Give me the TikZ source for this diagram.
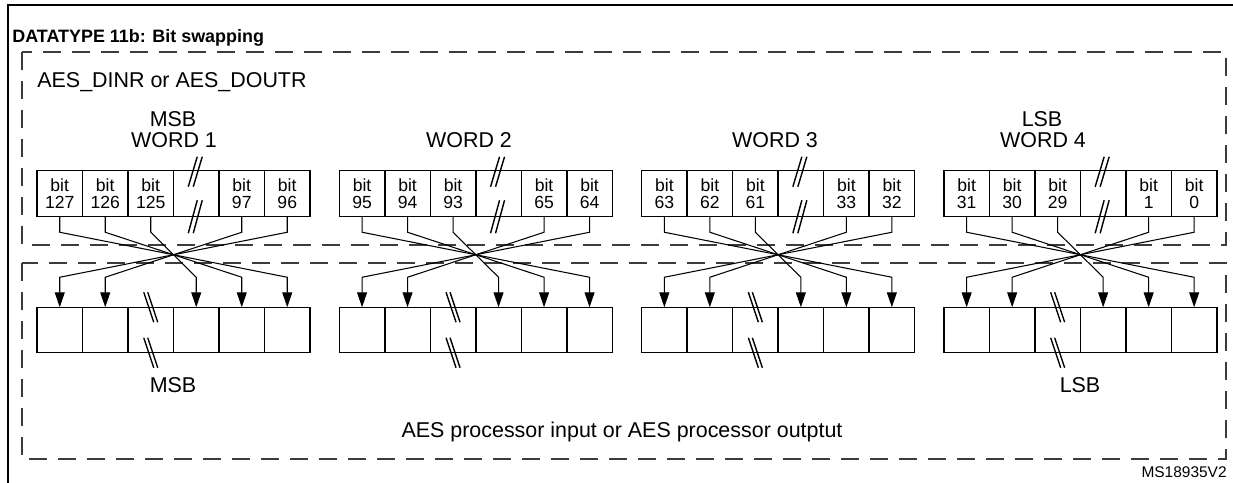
\documentclass[tikz,border=0pt]{standalone}
\usepackage{fontspec}
\setmainfont{Liberation Sans}
\usetikzlibrary{arrows.meta,calc,positioning}
\definecolor{DashGray}{RGB}{60,60,60}
\begin{document}
\begin{tikzpicture}[x=0.2mm,y=-0.2mm,
  frame/.style={line width=1.4pt},
  area/.style={draw=DashGray,line width=0.75pt,dash pattern=on 3.6mm off 2.2mm},
  cell/.style={rectangle,draw,line width=0.85pt,outer sep=0pt,inner sep=0pt,minimum width=9.1mm,minimum height=9.1mm,font=\fontsize{10}{9.6}\selectfont,align=center},
  lbl/.style={anchor=base,inner sep=0pt,font=\fontsize{12.2}{14}\selectfont},
  arr/.style={-{Triangle[length=3mm,width=2mm]},line width=0.6pt},
  cut/.style={line width=0.8pt}
]
  \useasboundingbox (0,0) rectangle (1233,483);
  \draw[frame] (1233,5) -- (8,5) -- (8,483);
  \node[anchor=base west,inner sep=0pt,font=\bfseries\fontsize{10.2}{12}\selectfont] (title) at (12,43) {DATATYPE 11b: Bit swapping};
  \draw[area] (22,52) rectangle (1226,245);
  \draw[area] (22,263) rectangle (1226,459);
  \node[lbl,anchor=base west] (regname) at (37,88) {AES\_DINR or AES\_DOUTR};
  \node[lbl] (msbtop) at (173,127) {MSB};
  \node[lbl] (word1) at (174,148) {WORD 1};
  \node[lbl] (word2) at (469,148) {WORD 2};
  \node[lbl] (word3) at (775,148) {WORD 3};
  \node[lbl] (lsbtop) at (1042,127) {LSB};
  \node[lbl] (word4) at (1043,148) {WORD 4};
  \foreach \w in {1,...,4}{
    \pgfmathsetmacro\xs{37+(\w-1)*302.3}
    \pgfmathtruncatemacro\hi{127-32*(\w-1)}
    \foreach \c/\d in {1/0,2/1,3/2,5/30,6/31}{
      \pgfmathtruncatemacro\bitno{\hi-\d}
      \node[cell] (t\w-\c) at ({\xs+(\c-0.5)*45.5},193.5) {bit\\\bitno};
    }
    \node[cell] (t\w-4) at ({\xs+3.5*45.5},193.5) {};
    \foreach \c in {1,...,6}
      \node[cell] (b\w-\c) at ({\xs+(\c-0.5)*45.5},330) {};
    \draw[cut] ($(t\w-4.north)+(-8,16)$) -- ++(9,-30);
    \draw[cut] ($(t\w-4.north)+(-3,16)$) -- ++(9,-30);
    \draw[cut] ($(t\w-4.south)+(-8,17)$) -- ++(9,-33);
    \draw[cut] ($(t\w-4.south)+(-3,17)$) -- ++(9,-33);
    \draw[cut] ($(b\w-3.north)+(-7,-15)$) -- ++(10,30);
    \draw[cut] ($(b\w-3.north)+(-3,-15)$) -- ++(10,30);
    \draw[cut] ($(b\w-3.south)+(-7,-15)$) -- ++(10,30);
    \draw[cut] ($(b\w-3.south)+(-3,-15)$) -- ++(10,30);
    \foreach \c/\d in {1/6,2/5,3/4,5/2,6/1}
      \draw[arr] (t\w-\c.south) -- ++(0,16) -- ($(b\w-\d.north)+(0,-30)$) -- (b\w-\d.north);
  }
  \node[lbl] (msbbot) at (173,392) {MSB};
  \node[lbl] (lsbbot) at (1080,392) {LSB};
  \node[lbl] (procname) at (622,437) {AES processor input or AES processor outptut};
  \node[anchor=base east,inner sep=0pt,font=\fontsize{8.8}{10}\selectfont] (code) at (1227,477) {MS18935V2};
\end{tikzpicture}
\end{document}
